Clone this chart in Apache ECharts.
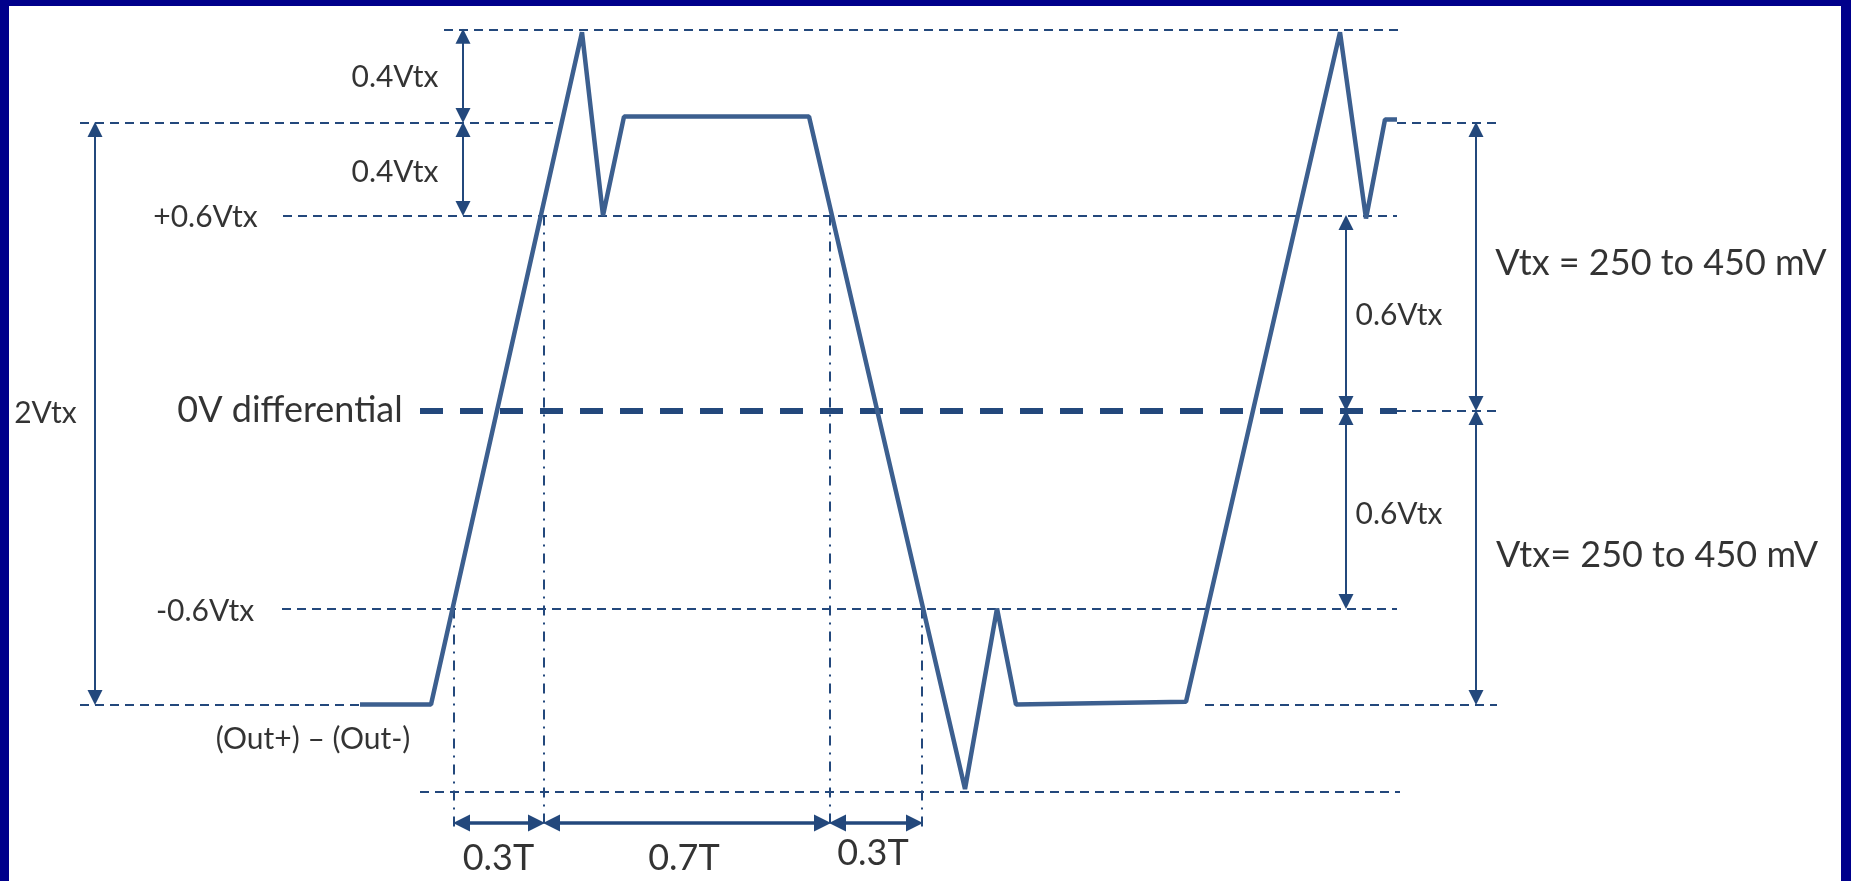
<!DOCTYPE html>
<html>
<head>
<meta charset="utf-8">
<script src="https://cdn.jsdelivr.net/npm/echarts@6/dist/echarts.min.js"></script>
<style>
html,body{margin:0;padding:0;background:#fff;overflow:hidden;}
#frame{position:absolute;left:0;top:0;width:1851px;height:881px;box-sizing:border-box;border-style:solid;border-color:#00008b;border-width:6px 10px 0 9px;background:#fff;}
#chart{width:100%;height:100%;}
</style>
</head>
<body>
<div id="frame"><div id="chart"></div></div>
<script>
// ---- data (x: time units, y: differential voltage in Vtx as drawn) ----
const waveT = [36.0, 43.1, 58.2, 60.3, 62.4, 80.9, 96.5, 99.7, 101.6, 118.6, 134.0, 136.6, 138.5, 139.7];
const waveV = [-1.01, -1.01, 1.30, 0.67, 1.01, 1.01, -1.30, -0.68, -1.01, -1.00, 1.30, 0.66, 1.00, 1.00];

const levelNames = ['peak', '+Vtx', '+0.6Vtx', '0V', '-0.6Vtx', '-Vtx', 'trough'];
const levelV = [1.31, 0.99, 0.67, 0, -0.68, -1.01, -1.31];

const timingMarks = [45.4, 54.4, 83.0, 92.2];
const timingLabels = ['0.3T', '0.7T', '0.3T'];

const textLabels = ['0.4Vtx', '0.4Vtx', '+0.6Vtx', '-0.6Vtx', '2Vtx', '0V differential', '(Out+) – (Out-)',
  '0.6Vtx', '0.6Vtx', 'Vtx = 250 to 450 mV', 'Vtx= 250 to 450 mV'];

// ---- layout (where guides, arrows and texts sit) ----
const L = {}; levelNames.forEach((n, i) => L[n] = levelV[i]);
const lineColor = '#23487c';
const waveColor = '#3c5f8f';
const bottomArrowV = -1.417;
const dropEndV = -1.43;
const vInset = 0.024;   // keeps vertical arrow tips on their guide lines
const hInset = 0.75;    // keeps horizontal arrow tips on the timing lines

const guideSpans = [
  ['peak', 44.4, 140.0, 'thin'],
  ['+Vtx', 8.0, 55.3, 'thin'],
  ['+Vtx', 139.7, 149.7, 'thin'],
  ['+0.6Vtx', 28.3, 139.7, 'thin'],
  ['0V', 42.0, 139.7, 'thick'],
  ['0V', 139.7, 149.7, 'thin'],
  ['-0.6Vtx', 28.2, 139.7, 'thin'],
  ['-Vtx', 8.0, 36.0, 'thin'],
  ['-Vtx', 120.5, 149.7, 'thin'],
  ['trough', 42.0, 140.0, 'thin']
];
const dropStarts = ['-0.6Vtx', '+0.6Vtx', '+0.6Vtx', '-0.6Vtx'];
const vArrows = [
  [9.5, '+Vtx', '-Vtx'],
  [46.3, 'peak', '+Vtx'],
  [46.3, '+Vtx', '+0.6Vtx'],
  [134.6, '+0.6Vtx', '0V'],
  [134.6, '0V', '-0.6Vtx'],
  [147.6, '+Vtx', '0V'],
  [147.6, '0V', '-Vtx']
];
const textPos = [
  [39.5, 1.146, 30], [39.5, 0.82, 30], [20.55, 0.665, 30], [20.5, -0.69, 30], [4.55, -0.01, 30],
  [29.0, 0.0, 36], [31.3, -1.13, 30], [139.9, 0.328, 30], [139.9, -0.355, 30],
  [166.1, 0.507, 36], [165.7, -0.496, 36]
];
const timingLabelPos = [[49.85, -1.537], [68.4, -1.537], [87.3, -1.52]];

const guideData = guideSpans.map(g => ({
  coords: [[g[1], L[g[0]]], [g[2], L[g[0]]]],
  lineStyle: g[3] === 'thick'
    ? { color: lineColor, width: 6, type: [23, 17], opacity: 1 }
    : { color: lineColor, width: 2, type: [9, 6], opacity: 1 }
}));
const dropData = timingMarks.map((t, i) => ({
  coords: [[t, L[dropStarts[i]]], [t, dropEndV]]
}));
const arrowData = vArrows.map(a => {
  const y1 = L[a[1]], y2 = L[a[2]];
  const s = Math.sign(y2 - y1);
  return { coords: [[a[0], y1 + s * vInset], [a[0], y2 - s * vInset]] };
});
const hArrowData = timingLabels.map((_, i) => ({
  coords: [[timingMarks[i] + hInset, bottomArrowV], [timingMarks[i + 1] - hInset, bottomArrowV]]
}));

const labelData = textLabels.map((t, i) => ({
  value: [textPos[i][0], textPos[i][1]], name: t,
  label: { fontSize: textPos[i][2] }
})).concat(timingLabels.map((t, i) => ({
  value: timingLabelPos[i], name: t, label: { fontSize: 36 }
})));

const chart = echarts.init(document.getElementById('chart'), null, { renderer: 'canvas' });
chart.setOption({
  animation: false,
  backgroundColor: '#ffffff',
  grid: { left: 0, right: 0, top: 0, bottom: 0 },
  xAxis: { type: 'value', min: 0.9, max: 184.1, show: false },
  yAxis: { type: 'value', min: -1.616, max: 1.39, show: false },
  series: [
    {
      type: 'lines', coordinateSystem: 'cartesian2d', silent: true, z: 1,
      symbol: ['none', 'none'], data: guideData
    },
    {
      type: 'lines', coordinateSystem: 'cartesian2d', silent: true, z: 1,
      symbol: ['none', 'none'],
      lineStyle: { color: lineColor, width: 2, type: [10, 7, 2, 7], opacity: 1 },
      data: dropData
    },
    {
      type: 'lines', coordinateSystem: 'cartesian2d', silent: true, z: 2,
      symbol: ['triangle', 'triangle'], symbolSize: 15,
      itemStyle: { color: lineColor, opacity: 1 },
      lineStyle: { color: lineColor, width: 2, type: 'solid', opacity: 1 },
      data: arrowData
    },
    {
      type: 'lines', coordinateSystem: 'cartesian2d', silent: true, z: 2,
      symbol: ['triangle', 'triangle'], symbolSize: 17,
      itemStyle: { color: lineColor, opacity: 1 },
      lineStyle: { color: lineColor, width: 3.5, type: 'solid', opacity: 1 },
      data: hArrowData
    },
    {
      type: 'line', silent: true, z: 3, symbol: 'none', clip: false,
      lineStyle: { color: waveColor, width: 4.5, join: 'bevel' },
      data: waveT.map((t, i) => [t, waveV[i]])
    },
    {
      type: 'scatter', silent: true, z: 4, clip: false,
      symbolSize: 1, itemStyle: { color: 'rgba(0,0,0,0)' },
      label: {
        show: true, position: 'inside', formatter: p => p.name,
        color: '#000', fontFamily: 'Lato', align: 'center', verticalAlign: 'middle'
      },
      data: labelData
    }
  ]
});
</script>
</body>
</html>
